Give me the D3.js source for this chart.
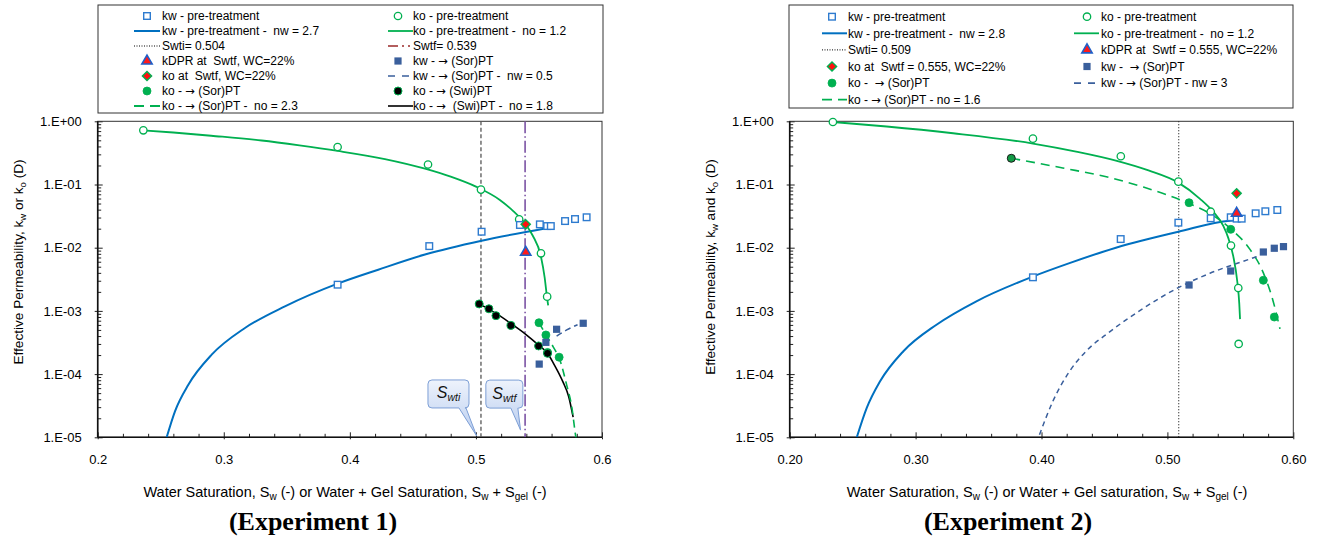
<!DOCTYPE html>
<html><head><meta charset="utf-8">
<script src="https://cdn.jsdelivr.net/npm/d3@7"></script>
<style>
html,body{margin:0;padding:0;background:#fff;}
text{white-space:pre;}
</style></head>
<body>
<script>
// ---------------- DATA ----------------
// Experiment 1 : [Sw, k (D)]
const e1_koPre   = [[0.2362,0.72],[0.3903,0.392],[0.462,0.207],[0.504,0.083],[0.5343,0.0281],[0.5516,0.00815],[0.5565,0.00168]];
const e1_kwPre   = [[0.3903,0.0026],[0.463,0.0106],[0.5045,0.0179],[0.5349,0.0229],[0.5507,0.0234],[0.5565,0.022],[0.5594,0.022],[0.5707,0.0264],[0.5786,0.0284],[0.5878,0.0303]];
const e1_kDPR    = [[0.5395,0.00846]];
const e1_koSwtf  = [[0.5395,0.0234]];
const e1_koSor   = [[0.55,0.00065],[0.5555,0.000416],[0.5568,0.00022],[0.566,0.000185]];
const e1_koSwi   = [[0.5026,0.00129],[0.5103,0.00108],[0.5159,0.00084],[0.5278,0.00059],[0.5497,0.000279],[0.5568,0.000213]];
const e1_kwSor   = [[0.5502,0.000144],[0.5555,0.000318],[0.564,0.000512],[0.5851,0.000637]];
const e1_koPreFit = [[0.236,0.72],[0.26,0.665],[0.29,0.591],[0.33,0.497],[0.36,0.416],[0.3903,0.34],[0.4278,0.253],[0.4596,0.178],[0.48,0.133],[0.50,0.0925],[0.519,0.057],[0.5296,0.038],[0.5395,0.0234],[0.545,0.0156],[0.5516,0.0072],[0.5545,0.0034],[0.5565,0.00158],[0.5573,0.00122]];
const e1_kwPreFit = [[0.2547,1e-5],[0.2613,2.58e-5],[0.2719,6.8e-5],[0.2904,2.03e-4],[0.3168,5.36e-4],[0.3485,1.18e-3],[0.3903,2.7e-3],[0.4225,4.49e-3],[0.4596,7.8e-3],[0.5045,0.0129],[0.556,0.0203]];
const e1_koSorFit = [[0.55,6.5e-4],[0.5555,4.2e-4],[0.5613,2.7e-4],[0.5666,1.67e-4],[0.572,6.7e-5],[0.576,3.05e-5],[0.5793,1e-5],[0.581,7e-6]];
const e1_koSwiFit = [[0.5026,0.00129],[0.5103,0.00106],[0.5159,0.000912],[0.5278,0.000631],[0.5395,0.000427],[0.5497,0.000288],[0.5568,0.000214],[0.5613,0.000151],[0.5692,7.4e-5],[0.5735,4.47e-5],[0.5771,2.09e-5]];
const e1_kwSorFit = [[0.564,4.0e-4],[0.572,5.0e-4],[0.5806,6.05e-4]];
const e1_Swti = 0.504, e1_Swtf = 0.539;

// Experiment 2 : [Sw, k (D)]
const e2_koPre   = [[0.2343,0.975],[0.3932,0.531],[0.463,0.28],[0.5087,0.111],[0.5344,0.0371],[0.5505,0.0108],[0.5563,0.0023],[0.5566,0.0003]];
const e2_kwPre   = [[0.3932,0.0034],[0.4629,0.0137],[0.5087,0.0249],[0.5344,0.0292],[0.5503,0.0303],[0.555,0.0288],[0.559,0.0288],[0.5701,0.035],[0.5778,0.0377],[0.5873,0.0395]];
const e2_kDPR    = [[0.555,0.035]];
const e2_koSwtf  = [[0.555,0.0726]];
const e2_koSorStart = [[0.376,0.26]];
const e2_koSor   = [[0.5172,0.0515],[0.5503,0.0195],[0.5762,0.00305],[0.5849,0.0008]];
const e2_kwSor   = [[0.5172,0.00257],[0.5503,0.00428],[0.5762,0.00855],[0.5849,0.0098],[0.5922,0.0104]];
const e2_koPreFit = [[0.2343,0.975],[0.277,0.828],[0.3298,0.647],[0.3932,0.445],[0.4275,0.332],[0.4591,0.239],[0.485,0.167],[0.5087,0.107],[0.5259,0.0594],[0.5365,0.0368],[0.5444,0.0221],[0.5484,0.01416],[0.5523,0.00735],[0.5555,0.00292],[0.5571,0.00129],[0.5577,0.00074]];
const e2_kwPreFit = [[0.2533,1e-5],[0.2612,2.91e-5],[0.2718,7.69e-5],[0.2903,2.3e-4],[0.3166,6.05e-4],[0.3483,1.42e-3],[0.3932,3.5e-3],[0.4222,5.7e-3],[0.4591,0.01],[0.5087,0.0179],[0.5497,0.0268],[0.5523,0.027]];
const e2_koSorFit = [[0.376,0.26],[0.4169,0.1824],[0.4544,0.128],[0.4809,0.091],[0.5172,0.050],[0.5338,0.0347],[0.5503,0.0199],[0.5656,0.0094],[0.5762,0.0040],[0.5841,0.0014],[0.5894,0.00052]];
const e2_kwSorFit = [[0.3984,1.1e-5],[0.409,3.7e-5],[0.4222,1.1e-4],[0.4354,2.3e-4],[0.4544,4.7e-4],[0.4809,0.0011],[0.5087,0.00233],[0.5338,0.00394],[0.5603,0.0061],[0.5709,0.0072]];
const e2_Swti = 0.509;

// Axis ticks
const xTicks = [0.2,0.3,0.4,0.5,0.6];
const xLabels1 = ["0.2","0.3","0.4","0.5","0.6"];
const xLabels2 = ["0.20","0.30","0.40","0.50","0.60"];
const yTicks = [1e-5,1e-4,1e-3,1e-2,1e-1,1];
const yLabels = ["1.E-05","1.E-04","1.E-03","1.E-02","1.E-01","1.E+00"];

// Legend texts
const legend1Col1 = ["kw - pre-treatment","kw - pre-treatment -  nw = 2.7","Swti= 0.504","kDPR at  Swtf, WC=22%","ko at  Swtf, WC=22%","ko - \u2192 (Sor)PT","ko - \u2192 (Sor)PT -  no = 2.3"];
const legend1Col2 = ["ko - pre-treatment","ko - pre-treatment -  no = 1.2","Swtf= 0.539","kw - \u2192 (Sor)PT","kw - \u2192 (Sor)PT -  nw = 0.5","ko - \u2192 (Swi)PT","ko - \u2192  (Swi)PT -  no = 1.8"];
const legend2Col1 = ["kw - pre-treatment","kw - pre-treatment -  nw = 2.8","Swti= 0.509","ko at  Swtf = 0.555, WC=22%","ko -  \u2192 (Sor)PT","ko - \u2192 (Sor)PT - no = 1.6"];
const legend2Col2 = ["ko - pre-treatment","ko - pre-treatment -  no = 1.2","kDPR at  Swtf = 0.555, WC=22%","kw -  \u2192 (Sor)PT","kw - \u2192 (Sor)PT - nw = 3"];

// ---------------- STYLE ----------------
const FONT = "'Liberation Sans', Arial, sans-serif";
const BLUE = "#0070C0", SQBLUE = "#2E7BCF", GREEN = "#00B050", DBLUE = "#3A5F9C", PURPLE = "#7B52A3";

const svg = d3.select("body").append("svg").attr("width",1317).attr("height",537)
  .style("font-family", FONT);

const defs = svg.append("defs");
const grad = defs.append("linearGradient").attr("id","callg").attr("x1",0).attr("y1",0).attr("x2",0).attr("y2",1);
grad.append("stop").attr("offset","0%").attr("stop-color","#eef3fc");
grad.append("stop").attr("offset","100%").attr("stop-color","#b9cdef");

// ---------- marker helpers ----------
function mk(g, type, px, py) {
  switch (type) {
    case "openSq": g.append("rect").attr("x",px-3.3).attr("y",py-3.3).attr("width",6.6).attr("height",6.6)
        .attr("fill","#fff").attr("stroke",SQBLUE).attr("stroke-width",1.4); break;
    case "openCirc": g.append("circle").attr("cx",px).attr("cy",py).attr("r",3.7)
        .attr("fill","#fff").attr("stroke",GREEN).attr("stroke-width",1.3); break;
    case "fillCirc": g.append("circle").attr("cx",px).attr("cy",py).attr("r",4)
        .attr("fill",GREEN).attr("stroke",GREEN).attr("stroke-width",0.8); break;
    case "darkCirc": g.append("circle").attr("cx",px).attr("cy",py).attr("r",4)
        .attr("fill","#139a45").attr("stroke","#1a1a1a").attr("stroke-width",1); break;
    case "blackCirc": g.append("circle").attr("cx",px).attr("cy",py).attr("r",4)
        .attr("fill","#000").attr("stroke",GREEN).attr("stroke-width",1); break;
    case "fillSq": g.append("rect").attr("x",px-3.6).attr("y",py-3.6).attr("width",7.2).attr("height",7.2)
        .attr("fill",DBLUE); break;
    case "tri": g.append("path").attr("transform",`translate(${px},${py})`)
        .attr("d", d3.symbol(d3.symbolTriangle, 46)()).attr("fill","#ff1a1a").attr("stroke","#1f5fc8").attr("stroke-width",1.6); break;
    case "diamond": g.append("path").attr("transform",`translate(${px},${py})`)
        .attr("d", "M0,-4.6L4.6,0L0,4.6L-4.6,0Z").attr("fill","#ff1010").attr("stroke",GREEN).attr("stroke-width",1.4); break;
  }
}

function panel(o) {
  const x = d3.scaleLinear().domain([0.2,0.6]).range([o.left,o.right]);
  const y = d3.scaleLog().domain([1e-5,1]).range([437.3,121.3]);
  const g = svg.append("g");
  const cid = "clip"+o.id;
  defs.append("clipPath").attr("id",cid).append("rect")
    .attr("x",o.left).attr("y",121.3).attr("width",o.right-o.left).attr("height",437.3-121.3);

  const xMinor = d3.range(0.22,0.6,0.02).filter(v => Math.abs(v*10-Math.round(v*10))>1e-6);
  const yMinor = [];
  for (let e=-5;e<0;e++) for (let m=2;m<10;m++) yMinor.push(m*Math.pow(10,e));
  function styleAxis(a){ a.select(".domain").remove(); a.selectAll("line").attr("stroke","#222"); a.attr("font-family",FONT).attr("font-size",13); a.selectAll("text").attr("fill","#000"); }
  g.append("g").attr("transform",`translate(0,437.3)`).call(d3.axisBottom(x).tickValues(xTicks).tickFormat((d,i)=>o.xLabels[i]).tickSize(2).tickPadding(15)).call(styleAxis);
  g.append("g").attr("transform",`translate(0,437.3)`).call(d3.axisBottom(x).tickValues(xTicks).tickFormat("").tickSize(-5)).call(styleAxis);
  g.append("g").attr("transform",`translate(0,437.3)`).call(d3.axisBottom(x).tickValues(xMinor).tickFormat("").tickSize(-3.5)).call(styleAxis);
  g.append("g").attr("transform",`translate(${o.left},0)`).call(d3.axisLeft(y).tickValues(yTicks).tickFormat((d,i)=>yLabels[i]).tickSize(3).tickPadding(13)).call(styleAxis);
  g.append("g").attr("transform",`translate(${o.left},0)`).call(d3.axisLeft(y).tickValues(yTicks).tickFormat("").tickSize(-5)).call(styleAxis);
  g.append("g").attr("transform",`translate(${o.left},0)`).call(d3.axisLeft(y).tickValues(yMinor).tickFormat("").tickSize(-3.5)).call(styleAxis);

  g.append("rect").attr("x",o.left).attr("y",121.3).attr("width",o.right-o.left).attr("height",437.3-121.3)
    .attr("fill","none").attr("stroke","#333").attr("stroke-width",1);
  g.append("line").attr("x1",o.left).attr("x2",o.left).attr("y1",121.3).attr("y2",437.3).attr("stroke","#111").attr("stroke-width",1.6);
  g.append("line").attr("x1",o.left).attr("x2",o.right).attr("y1",437.3).attr("y2",437.3).attr("stroke","#111").attr("stroke-width",1.6);

  const plot = g.append("g").attr("clip-path",`url(#${cid})`);
  const line = d3.line().x(d=>x(d[0])).y(d=>y(d[1])).curve(d3.curveMonotoneX);

  o.vlines.forEach(v => plot.append("line").attr("x1",x(v.at)).attr("x2",x(v.at)).attr("y1",121.3).attr("y2",437.3)
     .attr("stroke",v.color).attr("stroke-width",v.w).attr("stroke-dasharray",v.dash));

  o.curves.forEach(c => plot.append("path").attr("d",line(c.data)).attr("fill","none")
     .attr("stroke",c.color).attr("stroke-width",c.w).attr("stroke-dasharray",c.dash||null));

  const mg = g.append("g");
  o.points.forEach(p => p.data.forEach(d => mk(mg, p.type, x(d[0]), y(d[1]))));

  const yt = g.append("text").attr("transform",`translate(${o.left-79},${o.ytY}) rotate(-90)`)
    .attr("text-anchor","middle").attr("font-size",13.6).attr("dy","0.35em");
  o.ytitle.forEach(s => { const t = yt.append("tspan").text(s[0]); if (s[1]) t.attr("font-size",9.5).attr("baseline-shift","-25%"); });
  const xt = g.append("text").attr("x",o.xtX).attr("y",497).attr("text-anchor","middle").attr("font-size",14.5);
  o.xtitle.forEach(s => { const t = xt.append("tspan").text(s[0]); if (s[1]) t.attr("font-size",10).attr("baseline-shift","-25%"); });
  g.append("text").attr("x",o.capX).attr("y",530).attr("text-anchor","middle")
    .attr("font-family","'Liberation Serif','Times New Roman',serif").attr("font-weight","bold").attr("font-size",26).text(o.caption);
  return {x,y,g};
}

function addText(sel, str) {
  const parts = str.split("\u2192");
  parts.forEach((p,i) => {
    if (i>0) sel.append("tspan").attr("font-family","'DejaVu Sans'").attr("font-size",11.5).text("\u2192");
    if (p.length) sel.append("tspan").text(p);
  });
}

function legend(o) {
  const g = svg.append("g");
  g.append("rect").attr("x",o.x0).attr("y",o.y0).attr("width",o.x1-o.x0).attr("height",o.y1-o.y0)
    .attr("fill","#fff").attr("stroke","#333").attr("stroke-width",1);
  o.items.forEach(it => {
    const col = o.cols[it.c], yy = o.rowY + it.r*o.step;
    if (it.line) {
      g.append("line").attr("x1",col.l0).attr("x2",col.l1).attr("y1",yy).attr("y2",yy)
        .attr("stroke",it.line.color).attr("stroke-width",it.line.w).attr("stroke-dasharray",it.line.dash||null);
    } else mk(g, it.mk, col.m, yy);
    const t = g.append("text").attr("x",col.t).attr("y",yy).attr("dy","0.36em").attr("font-size",12);
    addText(t, it.text);
  });
}

function callout(px, py, dx, dy, w, h, t1, t2, sub) {
  const X = px+dx, Y = py+dy, r = 4;
  const b1 = X+t1, b2 = X+t2;
  const p = `M${X+r},${Y} H${X+w-r} Q${X+w},${Y} ${X+w},${Y+r} V${Y+h-r} Q${X+w},${Y+h} ${X+w-r},${Y+h} H${b2} L${px},${py} L${b1},${Y+h} H${X+r} Q${X},${Y+h} ${X},${Y+h-r} V${Y+r} Q${X},${Y} ${X+r},${Y} Z`;
  svg.append("path").attr("d",p).attr("fill","url(#callg)").attr("stroke","#7d9fd6").attr("stroke-width",1);
  const t = svg.append("text").attr("x",X+w/2).attr("y",Y+h/2+4.5).attr("text-anchor","middle")
    .attr("font-style","italic").attr("font-size",16).attr("fill","#111");
  t.append("tspan").text("S");
  t.append("tspan").attr("font-size",10.5).attr("baseline-shift","-25%").text(sub);
}

// ---------------- PANEL 1 ----------------
const P1 = panel({
  id:1, left:97.7, right:602, xLabels:xLabels1, ytY:262, xtX:345, capX:313, caption:"(Experiment 1)",
  ytitle:[["Effective Permeability, k"],["w",1],[" or k"],["o",1],[" (D)"]],
  xtitle:[["Water Saturation, S"],["w",1],[" (-) or Water + Gel Saturation, S"],["w",1],[" + S"],["gel",1],[" (-)"]],
  vlines:[{at:e1_Swti,color:"#555",w:1.3,dash:"4,2.5"},{at:e1_Swtf,color:PURPLE,w:1.6,dash:"12,3,1.5,3"}],
  curves:[
    {data:e1_kwPreFit,color:BLUE,w:2},
    {data:e1_koPreFit,color:GREEN,w:1.8},
    {data:e1_koSwiFit,color:"#000",w:1.6},
    {data:e1_koSorFit,color:GREEN,w:1.6,dash:"8,5"},
    {data:e1_kwSorFit,color:DBLUE,w:1.5,dash:"6,4"}
  ],
  points:[
    {type:"openCirc",data:e1_koPre},{type:"openSq",data:e1_kwPre},
    {type:"fillCirc",data:e1_koSor},{type:"blackCirc",data:e1_koSwi},{type:"fillSq",data:e1_kwSor},
    {type:"tri",data:e1_kDPR},{type:"diamond",data:e1_koSwtf}
  ]
});
callout(P1.x(0.5006), P1.y(1.05e-5), -48.7, -56, 41, 28, 31, 38, "wti");
callout(P1.x(0.5354), P1.y(1.3e-5), -34.7, -50, 37, 28, 25, 32, "wtf");

// ---------------- PANEL 2 ----------------
const P2 = panel({
  id:2, left:789.7, right:1293.3, xLabels:xLabels2, ytY:267, xtX:1047, capX:1008, caption:"(Experiment 2)",
  ytitle:[["Effective Permeability, k"],["w",1],[" and k"],["o",1],[" (D)"]],
  xtitle:[["Water Saturation, S"],["w",1],[" (-) or Water + Gel saturation, S"],["w",1],[" + S"],["gel",1],[" (-)"]],
  vlines:[{at:e2_Swti,color:"#111",w:1.1,dash:"1,2"}],
  curves:[
    {data:e2_kwPreFit,color:BLUE,w:2},
    {data:e2_koPreFit,color:GREEN,w:1.8},
    {data:e2_koSorFit,color:GREEN,w:1.6,dash:"9,6"},
    {data:e2_kwSorFit,color:DBLUE,w:1.5,dash:"5,4"}
  ],
  points:[
    {type:"openCirc",data:e2_koPre},{type:"openSq",data:e2_kwPre},
    {type:"fillCirc",data:e2_koSor},{type:"darkCirc",data:e2_koSorStart},{type:"fillSq",data:e2_kwSor},
    {type:"tri",data:e2_kDPR},{type:"diamond",data:e2_koSwtf}
  ]
});

// ---------------- LEGENDS ----------------
const L1types1 = [{mk:"openSq"},{line:{color:BLUE,w:2}},{line:{color:"#000",w:1,dash:"1,1.5"}},{mk:"tri"},{mk:"diamond"},{mk:"fillCirc"},{line:{color:GREEN,w:1.8,dash:"10,6"}}];
const L1types2 = [{mk:"openCirc"},{line:{color:GREEN,w:1.8}},{line:{color:"#9b2a2a",w:1.5,dash:"10,4,2,4,2,4"}},{mk:"fillSq"},{line:{color:DBLUE,w:1.6,dash:"7,7"}},{mk:"blackCirc"},{line:{color:"#000",w:1.6}}];
legend({x0:98,x1:603,y0:5,y1:113,rowY:16,step:15,
  cols:[{m:147,t:162,l0:134,l1:160},{m:398,t:413,l0:388,l1:413}],
  items:[...legend1Col1.map((t,i)=>Object.assign({c:0,r:i,text:t},L1types1[i])),
         ...legend1Col2.map((t,i)=>Object.assign({c:1,r:i,text:t},L1types2[i]))]});

const L2types1 = [{mk:"openSq"},{line:{color:BLUE,w:2}},{line:{color:"#000",w:1,dash:"1,1.5"}},{mk:"diamond"},{mk:"fillCirc"},{line:{color:GREEN,w:1.8,dash:"10,6"}}];
const L2types2 = [{mk:"openCirc"},{line:{color:GREEN,w:1.8}},{mk:"tri"},{mk:"fillSq"},{line:{color:DBLUE,w:1.6,dash:"7,7"}}];
legend({x0:789,x1:1293,y0:5,y1:108,rowY:16.7,step:16.6,
  cols:[{m:832,t:848,l0:822,l1:847},{m:1087,t:1101,l0:1074,l1:1099}],
  items:[...legend2Col1.map((t,i)=>Object.assign({c:0,r:i,text:t},L2types1[i])),
         ...legend2Col2.map((t,i)=>Object.assign({c:1,r:i,text:t},L2types2[i]))]});
</script>
</body></html>
